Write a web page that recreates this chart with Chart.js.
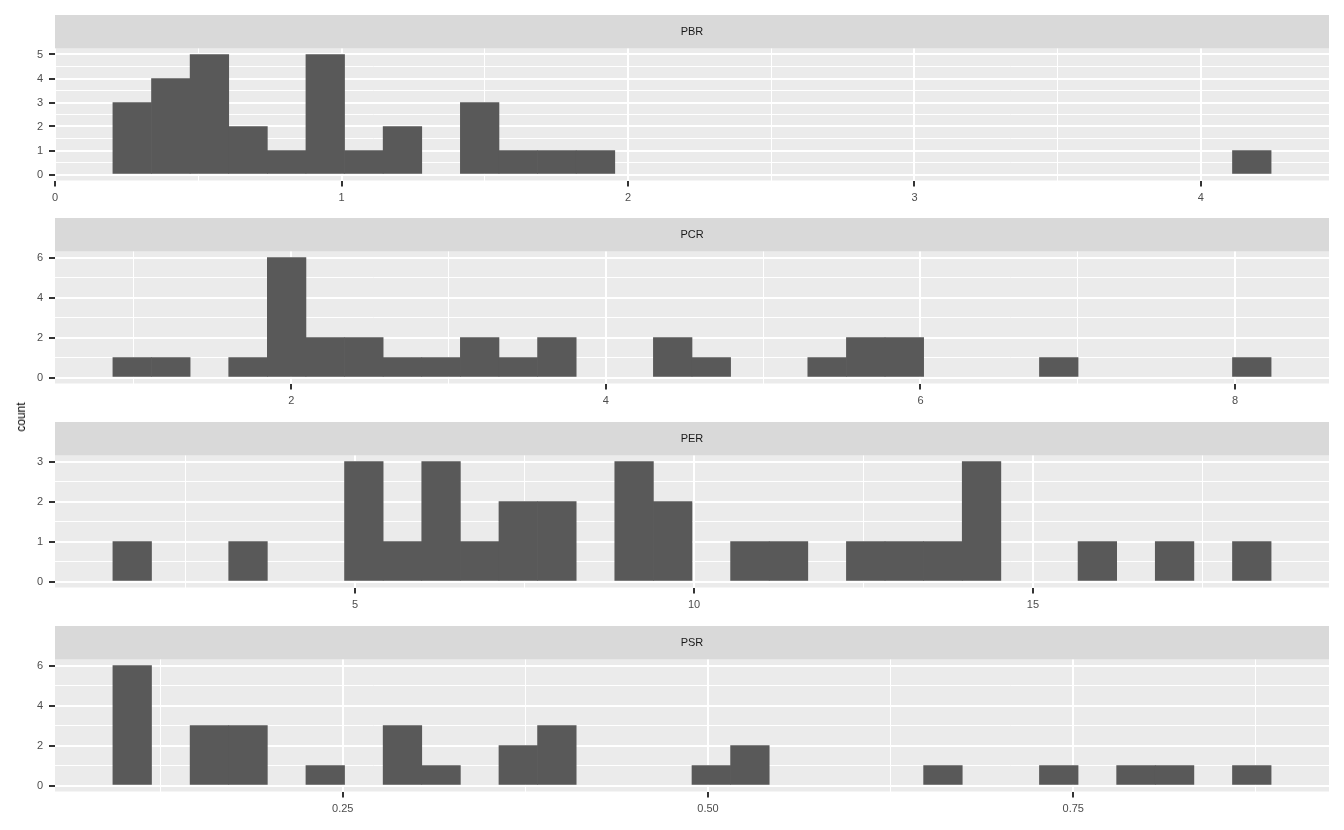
<!DOCTYPE html>
<html>
<head>
<meta charset="utf-8">
<script src="https://cdn.jsdelivr.net/npm/chart.js@4.4.1/dist/chart.umd.min.js"></script>
<style>
html, body { margin: 0; padding: 0; background: #ffffff; }
body { width: 1344px; height: 830px; position: relative; overflow: hidden; font-family: "Liberation Sans", Arial, sans-serif; }
canvas { position: absolute; left: 0; }
#ylab { position: absolute; left: 21px; top: 417px; transform: translate(-50%, -50%) rotate(-90deg); font-size: 12px; color: #000000; white-space: nowrap; }
</style>
</head>
<body>
<canvas id="c0" width="1344" height="203" style="top:15px;width:1344px;height:203px"></canvas>
<canvas id="c1" width="1344" height="204" style="top:218px;width:1344px;height:204px"></canvas>
<canvas id="c2" width="1344" height="204" style="top:422px;width:1344px;height:204px"></canvas>
<canvas id="c3" width="1344" height="204" style="top:626px;width:1344px;height:204px"></canvas>
<div id="ylab">count</div>
<script>
// ---- data ----
const facetNames = ["PBR", "PCR", "PER", "PSR"];

// counts per histogram bin (30 bins each)
const pbrCounts = [3,4,5,2,1,5,1,2,0,3,1,1,1,0,0,0,0,0,0,0,0,0,0,0,0,0,0,0,0,1];
const pcrCounts = [1,1,0,1,6,2,2,1,1,2,1,2,0,0,2,1,0,0,1,2,2,0,0,0,1,0,0,0,0,1];
const perCounts = [1,0,0,1,0,0,3,1,3,1,2,2,0,3,2,0,1,1,0,1,1,1,3,0,0,1,0,1,0,1];
const psrCounts = [6,0,3,3,0,1,0,3,1,0,2,3,0,0,0,1,2,0,0,0,0,1,0,0,1,0,1,1,0,1];

// outer edges of the binned range [first bin left, last bin right]
const pbrBinRange = [0.202, 4.245];
const pcrBinRange = [0.866, 8.229];
const perBinRange = [1.429, 18.512];
const psrBinRange = [0.0927, 0.8854];

// x tick values / labels and minor grid values
const pbrXTicks = [0, 1, 2, 3, 4];
const pbrXLabels = ["0", "1", "2", "3", "4"];
const pbrXMinor = [0.5, 1.5, 2.5, 3.5];
const pcrXTicks = [2, 4, 6, 8];
const pcrXLabels = ["2", "4", "6", "8"];
const pcrXMinor = [1, 3, 5, 7];
const perXTicks = [5, 10, 15];
const perXLabels = ["5", "10", "15"];
const perXMinor = [2.5, 7.5, 12.5, 17.5];
const psrXTicks = [0.25, 0.5, 0.75];
const psrXLabels = ["0.25", "0.50", "0.75"];
const psrXMinor = [0.125, 0.375, 0.625, 0.875];

// y tick values / labels and minor grid values
const pbrYTicks = [0, 1, 2, 3, 4, 5];
const pbrYLabels = ["0", "1", "2", "3", "4", "5"];
const pbrYMinor = [0.5, 1.5, 2.5, 3.5, 4.5];
const pcrYTicks = [0, 2, 4, 6];
const pcrYLabels = ["0", "2", "4", "6"];
const pcrYMinor = [1, 3, 5];
const perYTicks = [0, 1, 2, 3];
const perYLabels = ["0", "1", "2", "3"];
const perYMinor = [0.5, 1.5, 2.5];
const psrYTicks = [0, 2, 4, 6];
const psrYLabels = ["0", "2", "4", "6"];
const psrYMinor = [1, 3, 5];

// ---- styling / layout ----
const STRIP_H = 33.5;
const PANEL_H = 132;
const FONT_FAMILY = '"Liberation Sans", Arial, sans-serif';

const facetPlugin = {
  id: 'facet',
  beforeDraw(chart, args, opts) {
    const ctx = chart.ctx;
    const a = chart.chartArea;
    ctx.save();
    ctx.fillStyle = '#EBEBEB';
    ctx.fillRect(a.left, a.top, a.right - a.left, a.bottom - a.top);
    ctx.fillStyle = '#D9D9D9';
    ctx.fillRect(a.left, a.top - STRIP_H, a.right - a.left, STRIP_H);
    ctx.fillStyle = '#1A1A1A';
    ctx.font = '11px ' + FONT_FAMILY;
    ctx.textAlign = 'center';
    ctx.textBaseline = 'middle';
    ctx.fillText(opts.title || '', (a.left + a.right) / 2, a.top - STRIP_H / 2);
    ctx.restore();
  }
};

function axisConfig(min, max, majors, labels, minors, isX, size) {
  const all = majors.concat(minors).filter(v => v >= min && v <= max).sort((p, q) => p - q);
  const isMajor = ctx => !!(ctx && ctx.tick && majors.indexOf(ctx.tick.value) >= 0);
  return {
    type: 'linear',
    min: min,
    max: max,
    offset: false,
    afterBuildTicks: s => { s.ticks = all.map(v => ({ value: v })); },
    afterFit: s => { if (isX) { s.height = size; } else { s.width = size; } },
    ticks: {
      autoSkip: false,
      maxRotation: 0,
      minRotation: 0,
      padding: isX ? 5 : 6,
      color: '#4D4D4D',
      font: { family: FONT_FAMILY, size: 11 },
      callback: function (v) {
        const k = majors.indexOf(v);
        return k >= 0 ? labels[k] : '';
      }
    },
    grid: {
      offset: false,
      drawOnChartArea: true,
      drawTicks: true,
      color: '#FFFFFF',
      lineWidth: ctx => isMajor(ctx) ? 2 : 1,
      tickColor: ctx => isMajor(ctx) ? '#333333' : 'rgba(0,0,0,0)',
      tickWidth: 2,
      tickLength: 6
    },
    border: { display: false }
  };
}

function makeFacet(canvasId, title, counts, binRange, xT, xL, xM, yT, yL, yM) {
  const canvas = document.getElementById(canvasId);
  const H = canvas.height;
  const lo = binRange[0], hi = binRange[1];
  const span = hi - lo;
  const bw = span / counts.length;
  const xMin = lo - 0.05 * span, xMax = hi + 0.05 * span;
  const yTop = Math.max.apply(null, counts);
  const yMin = -0.05 * yTop, yMax = yTop * 1.05;
  const points = counts.map((c, i) => ({ x: lo + (i + 0.5) * bw, y: c === 0 ? null : c }));
  return new Chart(canvas, {
    type: 'bar',
    data: {
      datasets: [{
        data: points,
        backgroundColor: '#595959',
        borderWidth: 0,
        barPercentage: 1,
        categoryPercentage: 1
      }]
    },
    options: {
      responsive: false,
      animation: false,
      events: [],
      layout: { padding: { top: STRIP_H, right: 15, left: 0, bottom: 0 } },
      plugins: { legend: { display: false }, tooltip: { enabled: false }, facet: { title: title } },
      scales: {
        x: axisConfig(xMin, xMax, xT, xL, xM, true, H - STRIP_H - PANEL_H),
        y: axisConfig(yMin, yMax, yT, yL, yM, false, 55)
      }
    },
    plugins: [facetPlugin]
  });
}

makeFacet('c0', facetNames[0], pbrCounts, pbrBinRange, pbrXTicks, pbrXLabels, pbrXMinor, pbrYTicks, pbrYLabels, pbrYMinor);
makeFacet('c1', facetNames[1], pcrCounts, pcrBinRange, pcrXTicks, pcrXLabels, pcrXMinor, pcrYTicks, pcrYLabels, pcrYMinor);
makeFacet('c2', facetNames[2], perCounts, perBinRange, perXTicks, perXLabels, perXMinor, perYTicks, perYLabels, perYMinor);
makeFacet('c3', facetNames[3], psrCounts, psrBinRange, psrXTicks, psrXLabels, psrXMinor, psrYTicks, psrYLabels, psrYMinor);
</script>
</body>
</html>
